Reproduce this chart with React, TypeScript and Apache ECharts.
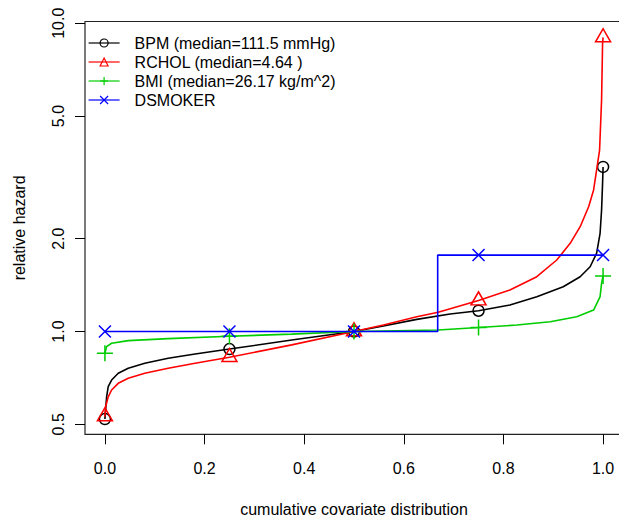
import React, { useEffect, useRef } from "react";
import * as echarts from "echarts";

// ---- data ----
const markerQuantiles = [0, 0.25, 0.5, 0.75, 1];
const xTickValues = [0, 0.2, 0.4, 0.6, 0.8, 1.0];
const yTickValues = [0.5, 1, 2, 5, 10];

const seriesNames = [
  "BPM (median=111.5 mmHg)",
  "RCHOL (median=4.64 )",
  "BMI (median=26.17 kg/m^2)",
  "DSMOKER",
];

const bpmQ = [0, 0.0034, 0.0066, 0.0134, 0.0267, 0.0468, 0.08, 0.127, 0.181, 0.25, 0.375, 0.5, 0.559, 0.626, 0.693, 0.75, 0.813, 0.867, 0.92, 0.954, 0.974, 0.987, 0.994, 0.997, 0.999, 1.0];
const bpmHR = [0.52, 0.614, 0.662, 0.696, 0.732, 0.76, 0.789, 0.819, 0.845, 0.877, 0.938, 1.0, 1.042, 1.095, 1.14, 1.168, 1.219, 1.297, 1.397, 1.506, 1.622, 1.794, 2.083, 2.478, 3.03, 3.42];

const rcholQ = [0, 0.0014, 0.0066, 0.0134, 0.0267, 0.0468, 0.08, 0.127, 0.181, 0.25, 0.375, 0.5, 0.559, 0.626, 0.669, 0.75, 0.813, 0.867, 0.907, 0.934, 0.954, 0.971, 0.981, 0.987, 0.993, 0.997, 0.999, 1.0];
const rcholHR = [0.53, 0.57, 0.614, 0.646, 0.679, 0.705, 0.732, 0.76, 0.789, 0.825, 0.905, 1.0, 1.05, 1.117, 1.154, 1.26, 1.364, 1.506, 1.706, 1.932, 2.188, 2.54, 2.88, 3.34, 3.88, 5.64, 8.6, 9.0];

const bmiQ = [0, 0.0034, 0.0134, 0.0468, 0.127, 0.25, 0.375, 0.5, 0.669, 0.75, 0.827, 0.894, 0.947, 0.981, 0.994, 0.997, 1.0];
const bmiHR = [0.85, 0.893, 0.916, 0.934, 0.948, 0.965, 0.981, 1.0, 1.011, 1.03, 1.05, 1.076, 1.117, 1.174, 1.297, 1.433, 1.514];

const smokerQ = [0, 0.25, 0.5, 0.668, 0.668, 0.75, 1.0];
const smokerHR = [1, 1, 1, 1, 1.77, 1.77, 1.77];

// ---- styling ----
const FONT = "'Liberation Sans', Arial, Helvetica, sans-serif";
const colors = ["#000000", "#FF0000", "#00CD00", "#0000FF"];
const circlePath = "path://M10,5A5,5 0 1 1 0,5A5,5 0 1 1 10,5Z";
const trianglePath = "path://M5,0L10,8.66L0,8.66Z";
const plusPath = "path://M0,5L10,5M5,0L5,10";
const crossPath = "path://M0,0L10,10M10,0L0,10";
const symbols = [circlePath, trianglePath, plusPath, crossPath];
const symbolSizes: any[] = [11, [15, 13], 16, 12];
const symbolOffsets: any[] = [[0, 0], [0, -2.2], [0, 0], [0, 0]];

function buildData(q: number[], hr: number[]) {
  return q.map((x, i) => {
    const isMarker = markerQuantiles.indexOf(x) >= 0 && q.indexOf(x) === i;
    const item: any = { value: [x, Math.log10(hr[i])] };
    if (!isMarker) item.symbol = "none";
    return item;
  });
}

export default function App() {
  const ref = useRef<HTMLDivElement>(null);
  useEffect(() => {
    if (!ref.current) return;
    const chart = echarts.init(ref.current, null, { renderer: "svg" });
    const datasets = [
      buildData(bpmQ, bpmHR),
      buildData(rcholQ, rcholHR),
      buildData(bmiQ, bmiHR),
      buildData(smokerQ, smokerHR),
    ];
    const series = seriesNames.map((name, k) => ({
      name,
      type: "line",
      data: datasets[k],
      symbol: symbols[k],
      symbolSize: symbolSizes[k],
      symbolOffset: symbolOffsets[k],
      showSymbol: true,
      clip: true,
      color: colors[k],
      lineStyle: { color: colors[k], width: 1.6 },
      itemStyle: { color: "rgba(0,0,0,0)", borderColor: colors[k], borderWidth: 1.5 },
      emphasis: { disabled: true },
      z: 2 + k,
    }));
    const axisText = { color: "#000", fontSize: 16, fontFamily: FONT };
    chart.setOption({
      animation: false,
      backgroundColor: "#ffffff",
      textStyle: { fontFamily: FONT },
      grid: {
        left: 85,
        top: 21.5,
        width: 538,
        height: 412.8,
        show: true,
        borderColor: "#222",
        borderWidth: 1.2,
        backgroundColor: "rgba(0,0,0,0)",
        containLabel: false,
        outerBoundsMode: "none",
      },
      legend: {
        left: 88,
        top: 35,
        orient: "vertical",
        padding: 0,
        itemWidth: 31,
        itemHeight: 10,
        itemGap: 3,
        data: seriesNames,
        textStyle: { color: "#000", fontSize: 16, fontFamily: FONT, lineHeight: 16, padding: [0, 0, 0, 10] },
        itemStyle: { color: "rgba(0,0,0,0)", borderColor: "inherit", borderWidth: 1.2 },
        lineStyle: { color: "inherit", width: 1.2 },
        selectedMode: false,
      },
      xAxis: {
        type: "value",
        min: -0.04,
        max: 1.04,
        position: "bottom",
        name: "cumulative covariate distribution",
        nameLocation: "middle",
        nameGap: 67,
        nameTextStyle: axisText,
        axisLine: { show: false, onZero: false },
        splitLine: { show: false },
        axisTick: { show: true, length: 10, inside: false, lineStyle: { color: "#000", width: 1 }, customValues: xTickValues },
        axisLabel: {
          ...axisText,
          margin: 26,
          customValues: xTickValues,
          formatter: (v: number) => v.toFixed(1),
        },
      },
      yAxis: {
        type: "value",
        min: -0.3335,
        max: 1.0058,
        position: "left",
        name: "relative hazard",
        nameLocation: "middle",
        nameGap: 58,
        nameRotate: 90,
        nameTextStyle: axisText,
        axisLine: { show: false, onZero: false },
        splitLine: { show: false },
        axisTick: {
          show: true,
          length: 10,
          inside: false,
          lineStyle: { color: "#000", width: 1 },
          customValues: yTickValues.map((v) => Math.log10(v)),
        },
        axisLabel: {
          ...axisText,
          rotate: 90,
          margin: 19,
          customValues: yTickValues.map((v) => Math.log10(v)),
          formatter: (v: number) => Math.pow(10, v).toFixed(1),
        },
      },
      series,
    } as any);
    return () => chart.dispose();
  }, []);
  return (
    <div
      ref={ref}
      style={{ position: "fixed", left: 0, top: 0, width: 619, height: 517, background: "#fff" }}
    />
  );
}
